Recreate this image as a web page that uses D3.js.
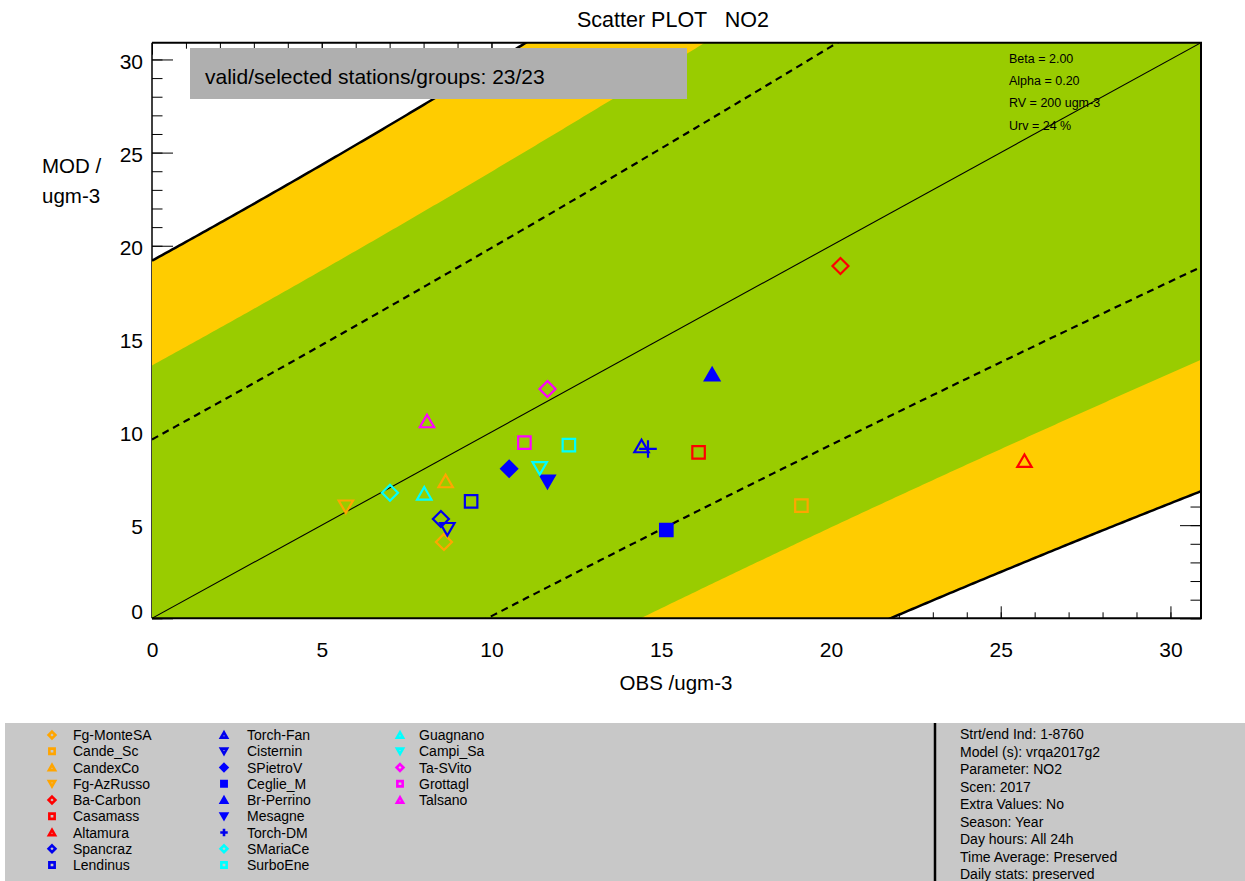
<!DOCTYPE html>
<html><head><meta charset="utf-8">
<script src="https://cdn.jsdelivr.net/npm/d3@7"></script>
<style>body{margin:0;background:#fff;} svg{display:block;font-family:"Liberation Sans",Arial,sans-serif;} text{white-space:pre;}</style>
</head><body>
<svg id="c" width="1245" height="881"></svg>
<script>
// ---- data ----
const stations = ["Fg-MonteSA","Cande_Sc","CandexCo","Fg-AzRusso","Ba-Carbon","Casamass","Altamura","Spancraz","Lendinus",
  "Torch-Fan","Cisternin","SPietroV","Ceglie_M","Br-Perrino","Mesagne","Torch-DM","SMariaCe","SurboEne",
  "Guagnano","Campi_Sa","Ta-SVito","Grottagl","Talsano"];
const obsValues = [8.60,19.13,8.65,5.71,20.28,16.10,25.70,8.51,9.40,14.42,8.70,10.52,15.15,16.50,11.65,14.61,7.01,12.28,8.02,11.42,11.65,10.97,8.10];
const modValues = [4.10,6.05,7.37,5.99,18.91,8.91,8.46,5.33,6.28,9.25,4.78,8.03,4.74,13.10,7.33,9.09,6.74,9.30,6.71,8.05,12.31,9.43,10.59];
const stationColors = ["#FFA500","#FFA500","#FFA500","#FFA500","#FF0000","#FF0000","#FF0000","#0000EE","#0000EE",
  "#0000EE","#0000EE","#0000FF","#0000FF","#0000FF","#0000FF","#0000EE","#00FFFF","#00FFFF","#00FFFF","#00FFFF",
  "#FF00FF","#FF00FF","#FF00FF"];
const stationSymbols = ["diamond","square","triangle","invtriangle","diamond","square","triangle","diamond","square",
  "triangle","invtriangle","diamond","square","triangle","invtriangle","plus","diamond","square","triangle","invtriangle",
  "diamond","square","triangle"];
const stationFilled = [0,0,0,0,0,0,0,0,0,0,0,1,1,1,1,0,0,0,0,0,0,0,0];
const xTicks = [0,5,10,15,20,25,30];
const yTicks = [0,5,10,15,20,25,30];
const params = {beta:2.0, alpha:0.20, rv:200, urv:0.24};
const paramLines = ["Beta = 2.00","Alpha = 0.20","RV = 200 ugm-3","Urv = 24 %"];
const infoLines = ["Strt/end Ind: 1-8760","Model (s): vrqa2017g2","Parameter: NO2","Scen: 2017","Extra Values: No",
  "Season: Year","Day hours: All 24h","Time Average: Preserved","Daily stats: preserved"];

// ---- layout ----
const FF = "Liberation Sans, Arial, sans-serif";
const svg = d3.select("#c");
const L=152, R=1201, T=42.7, B=618.3;
const x = d3.scaleLinear().domain([0,30.9]).range([L,R]);
const y = d3.scaleLinear().domain([0,30.9]).range([B,T]);
const minor = d3.range(0,31,1);

// ticks (drawn under fills)
const axG = svg.append("g");
function ax(gen, tr){ const g = axG.append("g").attr("transform",tr).call(gen); g.select(".domain").remove(); g.selectAll("line").attr("stroke","#000"); return g;}
ax(d3.axisBottom(x).tickValues(minor).tickSize(-6).tickFormat(""), `translate(0,${B})`);
ax(d3.axisBottom(x).tickValues(xTicks).tickSize(-12).tickFormat(""), `translate(0,${B})`);
ax(d3.axisTop(x).tickValues(minor).tickSize(-6).tickFormat(""), `translate(0,${T})`);
ax(d3.axisTop(x).tickValues(xTicks).tickSize(-12).tickFormat(""), `translate(0,${T})`);
ax(d3.axisLeft(y).tickValues(minor).tickSize(-10.5).tickFormat(""), `translate(${L},0)`);
ax(d3.axisLeft(y).tickValues(yTicks).tickSize(-21).tickFormat(""), `translate(${L},0)`);
ax(d3.axisRight(y).tickValues(minor).tickSize(-10.5).tickFormat(""), `translate(${R},0)`);
ax(d3.axisRight(y).tickValues(yTicks).tickSize(-21).tickFormat(""), `translate(${R},0)`);
axG.append("line").attr("x1",L).attr("x2",L).attr("y1",T).attr("y2",B).attr("stroke","#000").attr("stroke-width",1.5);

// labels
const xl = svg.append("g").attr("transform",`translate(0,${B})`)
  .call(d3.axisBottom(x).tickValues(xTicks).tickSize(0).tickPadding(23.5).tickFormat(d3.format("d")));
xl.select(".domain").remove();
xl.selectAll("text").attr("font-size",21).attr("fill","#000").attr("font-family",FF);
const yl = svg.append("g").attr("transform",`translate(${L},0)`)
  .call(d3.axisLeft(y).tickValues(yTicks).tickSize(0).tickPadding(9).tickFormat(d3.format("d")));
yl.select(".domain").remove();
yl.selectAll("text").attr("font-size",21).attr("fill","#000").attr("font-family",FF)
  .attr("dy", d => d===0 ? "0em" : "0.42em");

// clip
svg.append("clipPath").attr("id","pc").append("rect").attr("x",L).attr("y",T).attr("width",R-L).attr("height",B-T);
const pg = svg.append("g").attr("clip-path","url(#pc)");

// bands from parameters
const U = o => params.urv*Math.sqrt((1-params.alpha*params.alpha)*o*o + params.alpha*params.alpha*params.rv*params.rv);
const oS = d3.range(0,31.01,0.1);
const band = k => { const up = oS.map(o=>[x(o), y(o+k*U(o))]); const lo = oS.map(o=>[x(o), y(o-k*U(o))]).reverse(); return up.concat(lo); };
const line = d3.line();
pg.append("path").attr("d", line(band(params.beta))+"Z").attr("fill","#FFCC00");
pg.append("path").attr("d", line(band(params.beta/Math.SQRT2))+"Z").attr("fill","#99CC00");
[1,-1].forEach(s=>{
  pg.append("path").attr("d", line(oS.map(o=>[x(o), y(o+s*params.beta*U(o))]))).attr("fill","none").attr("stroke","#000").attr("stroke-width",2.5);
  pg.append("path").attr("d", line(oS.map(o=>[x(o), y(o+s*params.beta/2*U(o))]))).attr("fill","none").attr("stroke","#000").attr("stroke-width",2.2).attr("stroke-dasharray","7,5");
});

// frame on top (top, right, bottom)
svg.append("path").attr("d",`M${L},${T}H${R}V${B}H${L}`).attr("fill","none").attr("stroke","#000").attr("stroke-width",2);

// info box
svg.append("rect").attr("x",190).attr("y",48).attr("width",497).attr("height",51).attr("fill","#AFAFAF");
svg.append("text").attr("x",205).attr("y",83.5).attr("font-size",21).attr("font-family",FF).text("valid/selected stations/groups: 23/23");

// params text
svg.append("g").selectAll("text").data(paramLines).join("text")
  .attr("x",1009).attr("y",(d,i)=>62.5+i*22.4).attr("font-size",12.5).attr("font-family",FF).text(d=>d);

// 1:1 line
pg.append("line").attr("x1",x(0)).attr("y1",y(0)).attr("x2",x(30.9)).attr("y2",y(30.9)).attr("stroke","#000").attr("stroke-width",1.1);

// symbols
function sym(g, type, filled, color, s, sw){
  let p;
  if(type==="diamond") p=`M0,${-s}L${s},0L0,${s}L${-s},0Z`;
  else if(type==="square"){const h=s*0.78; p=`M${-h},${-h}H${h}V${h}H${-h}Z`;}
  else if(type==="triangle"){const w=s*0.9,h=s*0.78; p=`M0,${-h}L${w},${h}L${-w},${h}Z`;}
  else if(type==="invtriangle"){const w=s*0.9,h=s*0.78; p=`M0,${h}L${w},${-h}L${-w},${-h}Z`;}
  else { p=`M${-s*1.1},0H${s*1.1}M0,${-s*1.1}V${s*1.1}`; }
  g.append("path").attr("d",p).attr("fill", filled && type!=="plus" ? color : "none")
   .attr("stroke",color).attr("stroke-width",sw).attr("stroke-linejoin","miter");
}
stations.forEach((st,i)=>{
  const g = svg.append("g").attr("transform",`translate(${x(obsValues[i])},${y(modValues[i])})`);
  sym(g, stationSymbols[i], stationFilled[i], stationColors[i], 8, 2.2);
});

// titles
svg.append("text").attr("x",673).attr("y",27).attr("text-anchor","middle").attr("font-size",21.5).attr("font-family",FF).text("Scatter PLOT   NO2");
svg.append("text").attr("x",676).attr("y",690).attr("text-anchor","middle").attr("font-size",20.5).attr("font-family",FF).text("OBS /ugm-3");
svg.append("text").attr("x",42).attr("y",173).attr("font-size",20.5).attr("font-family",FF).text("MOD /");
svg.append("text").attr("x",42).attr("y",203).attr("font-size",20.5).attr("font-family",FF).text("ugm-3");

// legend panel
svg.append("rect").attr("x",5).attr("y",723).attr("width",1240).attr("height",158).attr("fill","#C8C8C8");
svg.append("line").attr("x1",935).attr("x2",935).attr("y1",723).attr("y2",881).attr("stroke","#000").attr("stroke-width",2.5);
const colX = [52,224,400], txtX=[73,247,419];
stations.forEach((st,i)=>{
  const c = Math.floor(i/9), r = i%9;
  const cy = 735 + r*16.25;
  const g = svg.append("g").attr("transform",`translate(${colX[c]},${cy})`);
  sym(g, stationSymbols[i], stationFilled[i], stationColors[i], 3.4, 2.6);
  svg.append("text").attr("x",txtX[c]).attr("y",cy+5).attr("font-size",14).attr("font-family",FF).text(st);
});
svg.append("g").selectAll("text").data(infoLines).join("text")
  .attr("x",960).attr("y",(d,i)=>739+i*17.5).attr("font-size",14).attr("font-family",FF).text(d=>d);
</script>
</body></html>
